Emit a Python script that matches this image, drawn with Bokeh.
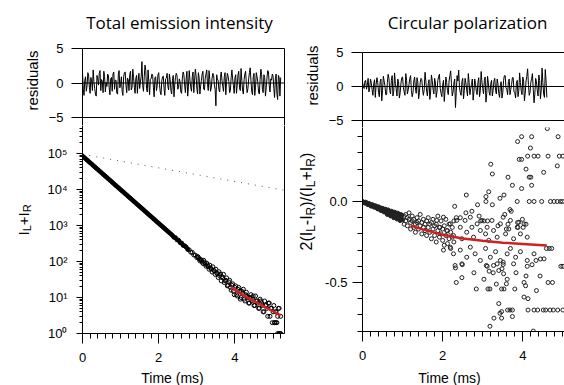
import math
from bokeh.plotting import figure
from bokeh.layouts import row, column
from bokeh.models import FixedTicker, Span, Label, CustomJSTickFormatter, Range1d, LinearAxis
from bokeh.embed import file_html
from bokeh.resources import INLINE

# ---------------- data ----------------
t_ms = [
    0.00, 0.04, 0.08, 0.12, 0.16, 0.20, 0.24, 0.28, 0.32, 0.36,
    0.40, 0.44, 0.48, 0.52, 0.56, 0.60, 0.64, 0.68, 0.72, 0.76,
    0.80, 0.84, 0.88, 0.92, 0.96, 1.00, 1.04, 1.08, 1.12, 1.16,
    1.20, 1.24, 1.28, 1.32, 1.36, 1.40, 1.44, 1.48, 1.52, 1.56,
    1.60, 1.64, 1.68, 1.72, 1.76, 1.80, 1.84, 1.88, 1.92, 1.96,
    2.00, 2.04, 2.08, 2.12, 2.16, 2.20, 2.24, 2.28, 2.32, 2.36,
    2.40, 2.44, 2.48, 2.52, 2.56, 2.60, 2.64, 2.68, 2.72, 2.76,
    2.80, 2.84, 2.88, 2.92, 2.96, 3.00, 3.04, 3.08, 3.12, 3.16,
    3.20, 3.24, 3.28, 3.32, 3.36, 3.40, 3.44, 3.48, 3.52, 3.56,
    3.60, 3.64, 3.68, 3.72, 3.76, 3.80, 3.84, 3.88, 3.92, 3.96,
    4.00, 4.04, 4.08, 4.12, 4.16, 4.20, 4.24, 4.28, 4.32, 4.36,
    4.40, 4.44, 4.48, 4.52, 4.56, 4.60, 4.64, 4.68, 4.72, 4.76,
    4.80, 4.84, 4.88, 4.92, 4.96, 5.00, 5.04, 5.08, 5.12, 5.16,
    5.20]

intensity = [
    85100, 78100, 71700, 65700, 60300, 55300, 50800, 46600, 42700, 39200,
    36000, 33000, 30300, 27800, 25500, 23400, 21500, 19700, 18100, 16600,
    15200, 13900, 12800, 11740, 10770, 9885, 9070, 8323, 7637, 7008,
    6431, 5900, 5414, 4968, 4559, 4183, 3838, 3522, 3232, 2966,
    2721, 2493, 2288, 2099, 1926, 1767, 1621, 1487, 1365, 1252,
    1149, 1054, 967, 887, 814, 747, 685, 629, 577, 529,
    470, 458, 401, 389, 335, 324, 281, 273, 251, 216,
    211, 181, 179, 152, 150, 128, 131, 104, 110, 88,
    95, 74, 80, 61, 66, 51, 57, 44, 48, 36,
    40, 29, 35, 26, 30, 21, 27, 19, 22, 15,
    19, 12, 17, 15, 10, 13, 9, 12, 11, 7,
    10, 8, 11, 6, 8, 7, 5, 8, 6, 4,
    6, 5, 7, 3, 5, 4, 2, 4, 3, 5,
    3]

tail_pairs = [
    (3.02, 138), (3.06, 118), (3.10, 112), (3.14, 97), (3.18, 108),
    (3.22, 84), (3.26, 90), (3.30, 72), (3.34, 79), (3.38, 62),
    (3.42, 71), (3.46, 55), (3.50, 61), (3.54, 46), (3.58, 52),
    (3.62, 45), (3.66, 38), (3.70, 44), (3.74, 29), (3.78, 35),
    (3.82, 22), (3.86, 30), (3.90, 16), (3.94, 24), (3.98, 12),
    (4.02, 21), (4.06, 11), (4.10, 19), (4.14, 9), (4.18, 15),
    (4.22, 17), (4.26, 8), (4.30, 14), (4.34, 10), (4.38, 7),
    (4.42, 12), (4.46, 9), (4.50, 6), (4.54, 11), (4.58, 8),
    (4.62, 5), (4.66, 9), (4.70, 7), (4.74, 4), (4.78, 8),
    (4.82, 6), (4.86, 3), (4.90, 7), (4.94, 5), (4.98, 2),
    (5.02, 6), (5.06, 4), (5.10, 2), (5.14, 5), (5.18, 1),
    (5.12, 1), (5.16, 1), (5.20, 1), (5.04, 2), (5.08, 2)]

fit_int_t = [3.9, 4.2, 4.5, 4.8, 5.1, 5.2]
fit_int_v = [19.2, 11.8, 7.9, 5.4, 3.6, 3.2]

ref_t = [0.0, 5.3]
ref_v = [95000, 9500]

t_res = [
    0.00, 0.02, 0.04, 0.06, 0.08, 0.10, 0.12, 0.14, 0.16, 0.18,
    0.20, 0.22, 0.24, 0.26, 0.28, 0.30, 0.32, 0.34, 0.36, 0.38,
    0.40, 0.42, 0.44, 0.46, 0.48, 0.50, 0.52, 0.54, 0.56, 0.58,
    0.60, 0.62, 0.64, 0.66, 0.68, 0.70, 0.72, 0.74, 0.76, 0.78,
    0.80, 0.82, 0.84, 0.86, 0.88, 0.90, 0.92, 0.94, 0.96, 0.98,
    1.00, 1.02, 1.04, 1.06, 1.08, 1.10, 1.12, 1.14, 1.16, 1.18,
    1.20, 1.22, 1.24, 1.26, 1.28, 1.30, 1.32, 1.34, 1.36, 1.38,
    1.40, 1.42, 1.44, 1.46, 1.48, 1.50, 1.52, 1.54, 1.56, 1.58,
    1.60, 1.62, 1.64, 1.66, 1.68, 1.70, 1.72, 1.74, 1.76, 1.78,
    1.80, 1.82, 1.84, 1.86, 1.88, 1.90, 1.92, 1.94, 1.96, 1.98,
    2.00, 2.02, 2.04, 2.06, 2.08, 2.10, 2.12, 2.14, 2.16, 2.18,
    2.20, 2.22, 2.24, 2.26, 2.28, 2.30, 2.32, 2.34, 2.36, 2.38,
    2.40, 2.42, 2.44, 2.46, 2.48, 2.50, 2.52, 2.54, 2.56, 2.58,
    2.60, 2.62, 2.64, 2.66, 2.68, 2.70, 2.72, 2.74, 2.76, 2.78,
    2.80, 2.82, 2.84, 2.86, 2.88, 2.90, 2.92, 2.94, 2.96, 2.98,
    3.00, 3.02, 3.04, 3.06, 3.08, 3.10, 3.12, 3.14, 3.16, 3.18,
    3.20, 3.22, 3.24, 3.26, 3.28, 3.30, 3.32, 3.34, 3.36, 3.38,
    3.40, 3.42, 3.44, 3.46, 3.48, 3.50, 3.52, 3.54, 3.56, 3.58,
    3.60, 3.62, 3.64, 3.66, 3.68, 3.70, 3.72, 3.74, 3.76, 3.78,
    3.80, 3.82, 3.84, 3.86, 3.88, 3.90, 3.92, 3.94, 3.96, 3.98,
    4.00, 4.02, 4.04, 4.06, 4.08, 4.10, 4.12, 4.14, 4.16, 4.18,
    4.20, 4.22, 4.24, 4.26, 4.28, 4.30, 4.32, 4.34, 4.36, 4.38,
    4.40, 4.42, 4.44, 4.46, 4.48, 4.50, 4.52, 4.54, 4.56, 4.58,
    4.60, 4.62, 4.64, 4.66, 4.68, 4.70, 4.72, 4.74, 4.76, 4.78,
    4.80, 4.82, 4.84, 4.86, 4.88, 4.90, 4.92, 4.94, 4.96, 4.98,
    5.00, 5.02, 5.04, 5.06, 5.08, 5.10, 5.12, 5.14, 5.16, 5.18,
    5.20]

res_int = [
    1.6, -0.9, -1.8, 0.4, 0.9, -1.2, -0.4, 1.5, 1.2, -0.6,
    -1.5, 0.8, 0.3, -1.1, 1.9, 0.2, -0.8, -1.6, -1.9, 1.1,
    0.6, -0.3, 1.4, 1.8, -1.1, 0.5, 0.2, -1.4, 1.7, 0.9,
    -1.3, 0.1, -0.5, 1.3, 1.1, -0.7, -1.7, 0.6, 0.8, -1.2,
    1.3, 1.6, -0.9, 0.4, 0.4, -1.5, -1.6, 1.2, 1.8, -0.7,
    -0.2, 0.9, -1.2, -1.8, 0.9, 1.5, 1.6, -0.3, -1.4, 0.7,
    0.5, -1.1, 1.2, 1.7, -1.0, -0.6, 2.0, 0.8, -0.6, -1.5,
    0.7, 1.1, -1.5, 0.3, 1.4, -0.8, 0.1, 1.0, 3.1, -0.4,
    -1.2, 0.9, 2.6, 1.8, -0.8, -1.3, 1.9, 0.2, -1.7, 0.5,
    0.6, 1.3, 1.2, -0.6, -2.0, 0.8, 0.9, -1.1, -0.4, 1.2,
    1.5, -0.2, -1.3, -1.7, 0.3, 0.9, 1.0, -0.8, -1.8, 0.6,
    0.7, 1.4, -0.5, -1.0, 1.3, 0.5, -1.1, -1.6, 0.4, 1.1,
    -2.0, -0.3, 0.8, 1.4, 1.1, -0.9, -0.7, 0.6, 0.2, -1.3,
    -1.5, 0.7, 1.6, 1.2, -0.3, -1.4, 0.6, 1.7, -1.9, -0.5,
    1.8, 0.4, -0.6, -1.2, 0.9, 1.6, -1.4, 0.3, 2.0, 1.1,
    -0.8, -1.6, 1.5, 0.8, -1.6, -0.4, 0.4, 1.3, 1.7, -0.9,
    -1.0, 0.7, 1.3, 1.9, -0.2, -1.1, 1.8, 0.5, -1.2, -0.6,
    0.7, 1.4, 1.1, -0.3, -0.9, -3.3, 1.2, 0.6, 0.3, -1.0,
    -1.3, 0.8, 1.6, 0.4, -0.5, -1.2, 0.9, 1.5, -1.7, 0.2,
    1.4, 1.0, 0.2, -1.4, -1.1, 0.8, 1.9, 0.6, -0.4, -1.5,
    0.8, 1.2, -1.5, -0.3, 1.2, 1.7, -0.7, -1.1, 2.1, 0.4,
    -1.0, -1.6, 0.5, 1.3, 1.7, -0.2, -1.4, -0.8, 0.6, 1.5,
    2.2, 0.3, -1.2, -1.7, 0.9, 1.4, -1.8, -0.6, 1.5, 0.9,
    0.1, -1.3, -1.6, 0.5, 2.0, 1.2, -0.9, -1.4, 1.2, 0.8,
    -1.9, -0.7, 0.7, 1.8, 1.6, -0.4, -1.3, 0.6, 0.4, 1.3,
    1.0, -0.8, -2.1, 0.6, 1.3, -1.5, -2.4, 1.1, 0.8, -1.9,
    0.8]

res_cp = [
    0.6, 0.1, -0.3, 0.8, 0.9, -0.4, 0.2, 1.2, -0.8, -0.2,
    1.1, 0.5, -0.5, -1.3, 0.4, 1.0, -1.6, 0.3, 1.3, 0.6,
    -0.9, -1.5, 0.7, 1.1, -2.1, -0.6, 1.5, 0.8, 0.1, -1.2,
    -1.2, 0.6, 1.8, 1.2, -0.6, -1.1, 0.9, 1.6, -1.4, -0.7,
    2.0, 0.4, -0.3, -1.4, 1.1, 0.7, -1.7, -0.9, 0.5, 1.3,
    1.4, -0.2, -0.8, -1.3, 1.9, 0.9, -1.1, -0.5, 0.3, 1.2,
    1.6, -0.6, -1.5, -0.9, 0.8, 1.4, -0.2, -1.0, 1.3, 0.7,
    -1.8, -0.9, 0.6, 1.2, 1.0, -0.5, -1.3, -0.4, 2.1, 0.8,
    -0.7, -1.4, 0.4, 1.0, -1.9, -0.8, 1.7, 0.9, -0.4, -1.1,
    1.2, 0.5, -1.6, -0.7, 0.9, 1.5, 1.8, -0.3, -1.0, -1.5,
    0.2, 0.9, -2.2, -0.5, 1.4, 0.6, -0.6, -1.2, 0.8, 1.6,
    2.3, 0.4, -1.4, -0.8, 0.5, 1.1, -3.1, -0.7, 1.6, 0.8,
    2.4, -0.2, -0.9, -1.3, 0.7, 1.2, -1.8, -0.6, 1.2, 0.5,
    -0.5, -1.4, 1.9, 0.6, -1.2, -0.3, 0.3, 1.1, -2.0, -0.8,
    1.1, 0.4, -0.7, -1.2, 0.6, 1.3, -1.5, -0.6, 2.2, 0.7,
    -0.3, -1.1, 0.9, 1.4, -2.3, -1.0, 1.5, 0.5, -0.8, -1.3,
    0.4, 0.9, -1.4, -0.5, 0.8, 1.2, -0.6, -1.1, 1.1, 0.4,
    -1.0, -1.6, 0.2, 0.7, -1.7, -0.9, 0.9, 1.6, 1.6, -0.2,
    -0.4, -1.2, 0.7, 1.1, -1.2, -0.4, 0.3, 1.3, 1.3, -0.8,
    -0.9, -1.7, 0.5, 0.9, -1.5, -0.6, 2.0, 0.6, -0.6, -1.2,
    1.4, 0.8, -2.1, -1.0, 0.8, 1.5, 2.6, 0.3, -1.3, -0.9,
    0.6, 1.2, 1.9, -0.4, -2.4, -1.1, 1.2, 0.7, -0.5, -1.4,
    1.7, 0.9, -1.8, -0.5, 2.7, 0.6, -1.1, -1.6, 2.5, 0.8,
    -1.6]

cp_band = [
    (0.00, 0.000), (0.02, -0.003), (0.04, -0.006), (0.06, -0.010), (0.08, -0.004),
    (0.10, -0.009), (0.12, -0.015), (0.14, -0.020), (0.16, -0.012), (0.18, -0.017),
    (0.20, -0.024), (0.22, -0.029), (0.24, -0.019), (0.26, -0.023), (0.28, -0.031),
    (0.30, -0.036), (0.32, -0.026), (0.34, -0.030), (0.36, -0.040), (0.38, -0.046),
    (0.40, -0.033), (0.42, -0.037), (0.44, -0.050), (0.46, -0.056), (0.48, -0.041),
    (0.50, -0.043), (0.52, -0.058), (0.54, -0.065), (0.56, -0.047), (0.58, -0.050),
    (0.60, -0.069), (0.62, -0.080), (0.64, -0.052), (0.66, -0.058), (0.68, -0.075),
    (0.70, -0.089), (0.72, -0.060), (0.74, -0.063), (0.76, -0.088), (0.78, -0.100),
    (0.80, -0.066), (0.82, -0.070), (0.84, -0.095), (0.86, -0.108), (0.88, -0.072),
    (0.90, -0.079), (0.92, -0.104), (0.94, -0.118), (0.96, -0.081), (0.98, -0.085),
    (1.00, -0.112)]

cp_spread = [
    (1.04, -0.09), (1.04, -0.14), (1.08, -0.12), (1.08, -0.08), (1.12, -0.15), (1.12, -0.10),
    (1.16, -0.11), (1.16, -0.07), (1.20, -0.13), (1.20, -0.17), (1.24, -0.09), (1.24, -0.12),
    (1.28, -0.16), (1.28, -0.11), (1.32, -0.14), (1.32, -0.19), (1.36, -0.10), (1.36, -0.13),
    (1.40, -0.17), (1.40, -0.12), (1.44, -0.15), (1.44, -0.08), (1.48, -0.20), (1.48, -0.13),
    (1.52, -0.11), (1.52, -0.16), (1.56, -0.18), (1.56, -0.14), (1.60, -0.12), (1.60, -0.21),
    (1.64, -0.16), (1.64, -0.10), (1.68, -0.19), (1.68, -0.14), (1.72, -0.13), (1.72, -0.23),
    (1.76, -0.17), (1.76, -0.11), (1.80, -0.21), (1.80, -0.15), (1.84, -0.14), (1.84, -0.25),
    (1.88, -0.18), (1.88, -0.09), (1.92, -0.22), (1.92, -0.16), (1.96, -0.12), (1.96, -0.20),
    (2.00, -0.24), (2.00, -0.17), (2.04, -0.15), (2.04, -0.27), (2.08, -0.21), (2.08, -0.11),
    (2.12, -0.18), (2.12, -0.26), (2.16, -0.23), (2.16, -0.14), (2.20, -0.29), (2.20, -0.19),
    (2.24, -0.16), (2.24, -0.22), (2.28, -0.25), (2.28, -0.12),
    (1.85, -0.117), (1.93, -0.159), (2.02, -0.097), (2.10, -0.179), (2.19, -0.138),
    (2.27, -0.21), (2.35, -0.117), (2.44, -0.159), (2.48, -0.23), (2.56, -0.117),
    (2.60, -0.19), (2.69, -0.097), (2.73, -0.159), (2.77, -0.22), (2.86, -0.138),
    (2.94, -0.179), (2.98, -0.117), (3.07, -0.20), (3.11, -0.159), (3.15, -0.24),
    (3.23, -0.117), (3.27, -0.179), (3.36, -0.22), (3.44, -0.138), (3.51, -0.097),
    (3.57, -0.20), (3.65, -0.17), (3.69, -0.117), (3.77, -0.23), (3.86, -0.159),
    (3.90, -0.128), (3.94, -0.20), (4.03, -0.138), (4.11, -0.22),
    (2.02, -0.30), (2.19, -0.282), (2.27, -0.323), (2.44, -0.30), (2.60, -0.344),
    (2.69, -0.282), (2.81, -0.323), (2.94, -0.364), (3.07, -0.29), (3.19, -0.344),
    (3.32, -0.31), (3.44, -0.364), (3.61, -0.323), (3.69, -0.29), (3.82, -0.344),
    (3.94, -0.31), (4.11, -0.364), (4.28, -0.323), (4.44, -0.355),
    (4.59, -0.29), (4.66, -0.29), (4.72, -0.29),
    (2.31, -0.395), (2.48, -0.385), (3.09, -0.395), (3.27, -0.395), (3.36, -0.385),
    (3.51, -0.375), (3.77, -0.385), (4.11, -0.40), (4.33, -0.364), (4.53, -0.354)]

cp_outliers = [
    (4.61, 0.45), (3.97, 0.40), (4.22, 0.40), (4.88, 0.40), (3.87, 0.37),
    (4.19, 0.33), (4.12, 0.28), (4.28, 0.28), (4.38, 0.28), (4.63, 0.28),
    (4.91, 0.28), (5.00, 0.28), (3.91, 0.26), (3.97, 0.26), (3.20, 0.23),
    (4.08, 0.20), (4.86, 0.22), (3.24, 0.17), (4.52, 0.18), (3.63, 0.15),
    (4.16, 0.15), (4.20, 0.15), (3.74, 0.10), (3.97, 0.08), (4.22, 0.10),
    (3.15, 0.06), (2.59, 0.04), (3.08, 0.03), (3.53, 0.04), (3.43, 0.02),
    (3.08, 0.0), (3.86, 0.0), (4.16, 0.0), (4.28, 0.0), (4.47, 0.0),
    (4.69, 0.0), (4.78, 0.0), (4.86, 0.0), (4.94, 0.0), (4.99, 0.0),
    (3.24, -0.02), (2.87, -0.02), (2.30, -0.03), (2.73, -0.06), (2.58, -0.07),
    (3.68, -0.05), (3.71, -0.06), (3.55, -0.08), (2.91, -0.09), (2.34, -0.10),
    (2.44, -0.10), (3.99, -0.11), (3.87, -0.13), (4.08, -0.14), (2.95, -0.12),
    (3.03, -0.12), (3.12, -0.12), (3.38, -0.15), (3.63, -0.14), (3.59, -0.17),
    (3.88, -0.16), (4.01, -0.16),
    (2.32, -0.41), (2.49, -0.39), (2.34, -0.50), (2.48, -0.47), (2.78, -0.44),
    (2.84, -0.54), (3.03, -0.48), (3.11, -0.40), (3.16, -0.43), (3.26, -0.44),
    (3.13, -0.54), (3.18, -0.54), (3.34, -0.51), (3.47, -0.54), (3.53, -0.54),
    (3.40, -0.63), (3.43, -0.69), (3.47, -0.68), (3.28, -0.72), (3.47, -0.72),
    (3.18, -0.77), (3.62, -0.67), (3.68, -0.67), (3.74, -0.67), (3.74, -0.71),
    (3.83, -0.44), (3.80, -0.54), (4.03, -0.50), (4.07, -0.52), (4.03, -0.59),
    (4.13, -0.60), (4.08, -0.46),
    (4.13, -0.67), (4.28, -0.67), (4.37, -0.67), (4.51, -0.67), (4.57, -0.67),
    (4.68, -0.67), (4.76, -0.67), (4.87, -0.67), (5.00, -0.67),
    (4.23, -0.39), (4.34, -0.55), (4.43, -0.46), (4.63, -0.50), (4.74, -0.50),
    (4.26, -0.80), (4.95, -0.40), (5.00, -0.40),
    (3.40, -0.426), (3.48, -0.415), (3.52, -0.446), (3.51, -0.389), (3.59, -0.508),
    (3.61, -0.48)]

fit_cp_t = [1.2, 1.5, 2.0, 2.5, 3.0, 3.5, 4.0, 4.6]
fit_cp_v = [-0.148, -0.172, -0.205, -0.228, -0.243, -0.254, -0.262, -0.272]

x_major = [0, 2, 4]
res_ticks = [-5, 0, 5]
log_ticks = [1, 10, 100, 1000, 10000, 100000]
cp_ticks = [-0.5, 0.0]
cp_minor = [-0.8, -0.7, -0.6, -0.5, -0.4, -0.3, -0.2, -0.1, 0.0, 0.1, 0.2, 0.3, 0.4]

titles = ["Total emission intensity", "Circular polarization"]
x_title = "Time (ms)"
res_title = "residuals"

# ---------------- helpers ----------------
FONT = "Liberation Sans"
RED = "#cc2222"


def base_fig(width, height, x_range, y_range, borders, **kw):
    left, right, top, bottom = borders
    p = figure(width=width, height=height, x_range=x_range, y_range=y_range,
               output_backend="svg", toolbar_location=None,
               min_border_left=left, min_border_right=right,
               min_border_top=top, min_border_bottom=bottom, **kw)
    p.grid.visible = False
    p.outline_line_color = None
    p.background_fill_color = "white"
    p.border_fill_color = "white"
    return p


def border_axis(p, side):
    ax = LinearAxis(ticker=FixedTicker(ticks=[]), major_tick_out=0, major_tick_in=0,
                    minor_tick_out=0, minor_tick_in=0, major_label_standoff=0,
                    major_label_text_font_size="0px", axis_line_color="black",
                    axis_line_width=1)
    p.add_layout(ax, side)


def strip(width, height, xr, yr):
    p = figure(width=width, height=height, x_range=Range1d(*xr), y_range=Range1d(*yr),
               output_backend="svg", toolbar_location=None,
               x_axis_location=None, y_axis_location=None,
               min_border_left=0, min_border_right=0, min_border_top=0, min_border_bottom=0)
    p.grid.visible = False
    p.outline_line_color = None
    p.background_fill_color = "white"
    p.border_fill_color = "white"
    return p


def style_axis(ax, out, minor_out, standoff, size="13px"):
    ax.axis_line_color = "black"
    ax.major_tick_line_color = "black"
    ax.minor_tick_line_color = "black"
    ax.major_tick_out = out
    ax.major_tick_in = 0
    ax.minor_tick_out = minor_out
    ax.minor_tick_in = 0
    ax.major_label_standoff = standoff
    ax.major_label_text_font = FONT
    ax.major_label_text_font_size = size
    ax.major_label_text_color = "black"


def text(p, x, y, s, size, align="center", baseline="middle", angle=0.0, font=FONT):
    p.add_layout(Label(x=x, y=y, text=s, text_font=font, text_font_size=size,
                       text_align=align, text_baseline=baseline, angle=angle,
                       text_color="black"))


ADV = {'2': 0.556, '(': 0.333, ')': 0.333, 'I': 0.278, 'L': 0.556, 'R': 0.722,
       '-': 0.333, '+': 0.584, '/': 0.278}


def sub_label(p, pieces, x_main, x_sub, y0, main_size, sub_size):
    y = y0
    for s, is_sub in pieces:
        size = sub_size if is_sub else main_size
        text(p, x_sub if is_sub else x_main, y, s, f"{size}px", align="left",
             baseline="alphabetic", angle=math.pi / 2)
        y -= sum(ADV[c] for c in s) * size


def x_axis_setup(p, xmax):
    ax = p.xaxis[0]
    n = int(round(xmax / 0.2))
    ax.ticker = FixedTicker(ticks=x_major, minor_ticks=[round(0.2 * i, 1) for i in range(n + 1)])
    style_axis(ax, 10, 5, 9)


def unzip(pairs):
    return [a for a, b in pairs], [b for a, b in pairs]


# ---------------- text strips ----------------
top = strip(564, 40, (0, 564), (40, 0))
text(top, 179, 22, titles[0], "17px", font="Open Sans")
text(top, 467, 22, titles[1], "17px", font="Open Sans")

bottom = strip(564, 20, (0, 564), (385, 365))
text(bottom, 172, 377, x_title, "14px")
text(bottom, 449, 377, x_title, "14px")

# "residuals" is 4.0 em long at 15px (60 px): it starts 30 px below its centre
s1 = strip(40, 325, (0, 40), (365, 40))
text(s1, 32, 110, res_title, "15px", align="left", baseline="alphabetic", angle=math.pi / 2)
sub_label(s1, [("I", 0), ("L", 1), ("+I", 0), ("R", 1)], 23, 26.5, 235, 15, 11)

s2 = strip(32, 325, (290, 322), (365, 40))
text(s2, 312, 105, res_title, "15px", align="left", baseline="alphabetic", angle=math.pi / 2)
sub_label(s2, [("2(I", 0), ("L", 1), ("-I", 0), ("R", 1), (")/(I", 0), ("L", 1),
               ("+I", 0), ("R", 1), (")", 0)], 306, 310, 250, 16, 12)

# ---------------- left column ----------------
# residual frame runs 8 px below its -5 line so the "-5" label is not cut
r1 = base_fig(250, 85, (0, 5.3), (-6.159, 5), (42, 6, 8, 0), x_axis_location=None)
r1.yaxis.ticker = FixedTicker(ticks=res_ticks, minor_ticks=[])
style_axis(r1.yaxis[0], 11, 0, 8)
border_axis(r1, "above")
border_axis(r1, "right")
r1.add_layout(Span(location=0, dimension="width", line_color="black", line_width=1))
r1.add_layout(Span(location=-5, dimension="width", line_color="black", line_width=1))
r1.line(t_res, res_int, line_color="black", line_width=1)

m1 = base_fig(250, 240, (0, 5.3), (1, 5.995e5), (42, 6, 0, 32), y_axis_type="log")
m1.yaxis.ticker = FixedTicker(ticks=log_ticks,
                              minor_ticks=[m * 10 ** e for e in range(0, 6) for m in range(2, 10)])
m1.yaxis.formatter = CustomJSTickFormatter(code="""
const sup = ['\u2070','\u00b9','\u00b2','\u00b3','\u2074','\u2075'];
return '10' + sup[Math.round(Math.log10(tick))];
""")
style_axis(m1.yaxis[0], 6, 3, 9)
x_axis_setup(m1, 5.2)
border_axis(m1, "right")
m1.line(ref_t, ref_v, line_color="#555555", line_width=1, line_dash="1 6")
m1.scatter(t_ms[:70], intensity[:70], marker="circle", size=4, fill_color="black",
           line_color="black", line_width=1)
m1.scatter(t_ms[70:], intensity[70:], marker="circle", size=4, fill_color=None,
           line_color="black", line_width=1)
tt, tv = unzip(tail_pairs)
m1.scatter(tt, tv, marker="circle", size=4, fill_color=None, line_color="black", line_width=1)
m1.line(fit_int_t, fit_int_v, line_color=RED, line_width=2.5)

# ---------------- right column ----------------
r2 = base_fig(242, 87, (0, 5.04), (-6.029, 5), (40, 0, 12, 0), x_axis_location=None)
r2.yaxis.ticker = FixedTicker(ticks=res_ticks, minor_ticks=[])
style_axis(r2.yaxis[0], 11, 0, 8)
border_axis(r2, "above")
r2.add_layout(Span(location=0, dimension="width", line_color="black", line_width=1))
r2.add_layout(Span(location=-5, dimension="width", line_color="black", line_width=1))
r2.line(t_res[:len(res_cp)], res_cp, line_color="black", line_width=1)

m2 = base_fig(242, 238, (0, 5.04), (-0.8025, 0.4568), (40, 0, 0, 34))
m2.yaxis.ticker = FixedTicker(ticks=cp_ticks, minor_ticks=cp_minor)
m2.yaxis.formatter = CustomJSTickFormatter(code="return tick.toFixed(1);")
style_axis(m2.yaxis[0], 10, 5, 5)
x_axis_setup(m2, 5.0)
bt, bv = unzip(cp_band)
m2.scatter(bt, bv, marker="circle", size=4, fill_color="#222222",
           line_color="#222222", line_width=1)
st, sv = unzip(cp_spread + cp_outliers)
m2.scatter(st, sv, marker="circle", size=4, fill_color=None,
           line_color="#222222", line_width=1)
m2.line(fit_cp_t, fit_cp_v, line_color=RED, line_width=2.5)

layout = column(top,
                row(s1, column(r1, m1), s2, column(r2, m2)),
                bottom)
open("out.html", "w").write(file_html(layout, INLINE))
